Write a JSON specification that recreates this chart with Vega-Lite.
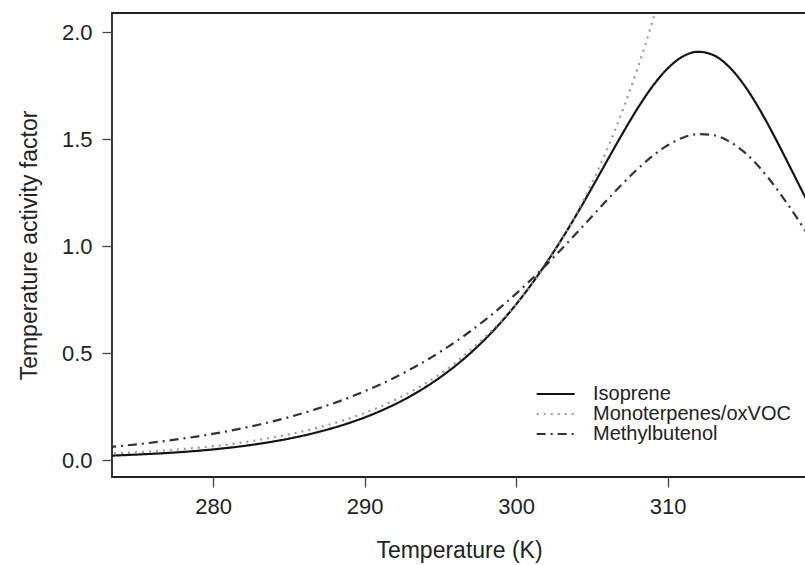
{
  "$schema": "https://vega.github.io/schema/vega-lite/v6.json",
  "width": 694,
  "height": 464,
  "autosize": {"type": "none"},
  "padding": {"left": 112, "top": 13, "right": 0, "bottom": 88},
  "background": "white",
  "config": {
    "view": {"stroke": "#222", "strokeWidth": 1.8},
    "font": "Liberation Sans",
    "axis": {
      "grid": false,
      "domain": false,
      "tickColor": "#444",
      "tickSize": 10,
      "tickWidth": 1.3,
      "labelFontSize": 22,
      "labelColor": "#222",
      "labelFont": "Liberation Sans",
      "titleFont": "Liberation Sans",
      "titleFontSize": 23,
      "titleFontWeight": "normal",
      "titleColor": "#222"
    }
  },
  "datasets": {
    "curves": [
      {"T": 273, "series": "Isoprene", "value": 0.02},
      {"T": 275, "series": "Isoprene", "value": 0.026},
      {"T": 277, "series": "Isoprene", "value": 0.0334},
      {"T": 279, "series": "Isoprene", "value": 0.0435},
      {"T": 281, "series": "Isoprene", "value": 0.0572},
      {"T": 283, "series": "Isoprene", "value": 0.0757},
      {"T": 285, "series": "Isoprene", "value": 0.1001},
      {"T": 287, "series": "Isoprene", "value": 0.1322},
      {"T": 289, "series": "Isoprene", "value": 0.174},
      {"T": 291, "series": "Isoprene", "value": 0.228},
      {"T": 293, "series": "Isoprene", "value": 0.2978},
      {"T": 295, "series": "Isoprene", "value": 0.3873},
      {"T": 296, "series": "Isoprene", "value": 0.4408},
      {"T": 297, "series": "Isoprene", "value": 0.501},
      {"T": 298, "series": "Isoprene", "value": 0.5685},
      {"T": 299, "series": "Isoprene", "value": 0.6438},
      {"T": 300, "series": "Isoprene", "value": 0.7277},
      {"T": 301, "series": "Isoprene", "value": 0.8202},
      {"T": 302, "series": "Isoprene", "value": 0.9216},
      {"T": 303, "series": "Isoprene", "value": 1.0314},
      {"T": 304, "series": "Isoprene", "value": 1.1488},
      {"T": 305, "series": "Isoprene", "value": 1.272},
      {"T": 306, "series": "Isoprene", "value": 1.3983},
      {"T": 307, "series": "Isoprene", "value": 1.5232},
      {"T": 308, "series": "Isoprene", "value": 1.6416},
      {"T": 309, "series": "Isoprene", "value": 1.7462},
      {"T": 310, "series": "Isoprene", "value": 1.83},
      {"T": 311, "series": "Isoprene", "value": 1.8859},
      {"T": 312, "series": "Isoprene", "value": 1.9078},
      {"T": 313, "series": "Isoprene", "value": 1.8929},
      {"T": 314, "series": "Isoprene", "value": 1.8413},
      {"T": 315, "series": "Isoprene", "value": 1.757},
      {"T": 316, "series": "Isoprene", "value": 1.6468},
      {"T": 317, "series": "Isoprene", "value": 1.5184},
      {"T": 318, "series": "Isoprene", "value": 1.3801},
      {"T": 319, "series": "Isoprene", "value": 1.2396},
      {"T": 320, "series": "Isoprene", "value": 1.1025},
      {"T": 273, "series": "Monoterpenes/oxVOC", "value": 0.030},
      {"T": 275, "series": "Monoterpenes/oxVOC", "value": 0.037},
      {"T": 277, "series": "Monoterpenes/oxVOC", "value": 0.046},
      {"T": 279, "series": "Monoterpenes/oxVOC", "value": 0.058},
      {"T": 281, "series": "Monoterpenes/oxVOC", "value": 0.073},
      {"T": 283, "series": "Monoterpenes/oxVOC", "value": 0.094},
      {"T": 285, "series": "Monoterpenes/oxVOC", "value": 0.120},
      {"T": 287, "series": "Monoterpenes/oxVOC", "value": 0.153},
      {"T": 289, "series": "Monoterpenes/oxVOC", "value": 0.195},
      {"T": 291, "series": "Monoterpenes/oxVOC", "value": 0.248},
      {"T": 293, "series": "Monoterpenes/oxVOC", "value": 0.317},
      {"T": 295, "series": "Monoterpenes/oxVOC", "value": 0.403},
      {"T": 296, "series": "Monoterpenes/oxVOC", "value": 0.455},
      {"T": 297, "series": "Monoterpenes/oxVOC", "value": 0.5157},
      {"T": 298, "series": "Monoterpenes/oxVOC", "value": 0.5786},
      {"T": 299, "series": "Monoterpenes/oxVOC", "value": 0.6491},
      {"T": 300, "series": "Monoterpenes/oxVOC", "value": 0.7282},
      {"T": 301, "series": "Monoterpenes/oxVOC", "value": 0.8169},
      {"T": 302, "series": "Monoterpenes/oxVOC", "value": 0.9165},
      {"T": 303, "series": "Monoterpenes/oxVOC", "value": 1.0282},
      {"T": 304, "series": "Monoterpenes/oxVOC", "value": 1.1535},
      {"T": 305, "series": "Monoterpenes/oxVOC", "value": 1.2941},
      {"T": 306, "series": "Monoterpenes/oxVOC", "value": 1.4518},
      {"T": 307, "series": "Monoterpenes/oxVOC", "value": 1.6287},
      {"T": 308, "series": "Monoterpenes/oxVOC", "value": 1.8271},
      {"T": 309, "series": "Monoterpenes/oxVOC", "value": 2.0499},
      {"T": 310, "series": "Monoterpenes/oxVOC", "value": 2.2997},
      {"T": 273, "series": "Methylbutenol", "value": 0.06},
      {"T": 275, "series": "Methylbutenol", "value": 0.0739},
      {"T": 277, "series": "Methylbutenol", "value": 0.0907},
      {"T": 279, "series": "Methylbutenol", "value": 0.1111},
      {"T": 281, "series": "Methylbutenol", "value": 0.1356},
      {"T": 283, "series": "Methylbutenol", "value": 0.1651},
      {"T": 285, "series": "Methylbutenol", "value": 0.2004},
      {"T": 287, "series": "Methylbutenol", "value": 0.2426},
      {"T": 289, "series": "Methylbutenol", "value": 0.2928},
      {"T": 291, "series": "Methylbutenol", "value": 0.3525},
      {"T": 293, "series": "Methylbutenol", "value": 0.423},
      {"T": 295, "series": "Methylbutenol", "value": 0.5062},
      {"T": 296, "series": "Methylbutenol", "value": 0.5529},
      {"T": 297, "series": "Methylbutenol", "value": 0.6032},
      {"T": 298, "series": "Methylbutenol", "value": 0.6575},
      {"T": 299, "series": "Methylbutenol", "value": 0.7157},
      {"T": 300, "series": "Methylbutenol", "value": 0.7777},
      {"T": 301, "series": "Methylbutenol", "value": 0.8438},
      {"T": 302, "series": "Methylbutenol", "value": 0.9134},
      {"T": 303, "series": "Methylbutenol", "value": 0.9864},
      {"T": 304, "series": "Methylbutenol", "value": 1.0617},
      {"T": 305, "series": "Methylbutenol", "value": 1.1384},
      {"T": 306, "series": "Methylbutenol", "value": 1.215},
      {"T": 307, "series": "Methylbutenol", "value": 1.2894},
      {"T": 308, "series": "Methylbutenol", "value": 1.359},
      {"T": 309, "series": "Methylbutenol", "value": 1.4207},
      {"T": 310, "series": "Methylbutenol", "value": 1.4711},
      {"T": 311, "series": "Methylbutenol", "value": 1.5064},
      {"T": 312, "series": "Methylbutenol", "value": 1.523},
      {"T": 313, "series": "Methylbutenol", "value": 1.5186},
      {"T": 314, "series": "Methylbutenol", "value": 1.4915},
      {"T": 315, "series": "Methylbutenol", "value": 1.4421},
      {"T": 316, "series": "Methylbutenol", "value": 1.3725},
      {"T": 317, "series": "Methylbutenol", "value": 1.286},
      {"T": 318, "series": "Methylbutenol", "value": 1.1874},
      {"T": 319, "series": "Methylbutenol", "value": 1.0818},
      {"T": 320, "series": "Methylbutenol", "value": 0.9736}
    ]
  },
  "data": {"name": "curves"},
  "mark": {"type": "line", "interpolate": "monotone", "clip": true, "strokeWidth": 2.2},
  "encoding": {
    "x": {
      "field": "T",
      "type": "quantitative",
      "scale": {"domain": [273.33, 319.13], "nice": false, "zero": false},
      "axis": {"values": [280, 290, 300, 310], "title": "Temperature (K)", "labelPadding": 9, "titlePadding": 22}
    },
    "y": {
      "field": "value",
      "type": "quantitative",
      "scale": {"domain": [-0.079, 2.089], "nice": false, "zero": false},
      "axis": {"values": [0, 0.5, 1, 1.5, 2], "format": ".1f", "title": "Temperature activity factor", "labelPadding": 10, "titlePadding": 20}
    },
    "stroke": {
      "field": "series",
      "type": "nominal",
      "scale": {"domain": ["Isoprene", "Monoterpenes/oxVOC", "Methylbutenol"], "range": ["#151515", "#9a9a9a", "#333333"]},
      "legend": {"title": null, "orient": "none", "legendX": 421, "legendY": 371, "symbolType": "M-1,0H5", "symbolSize": 160, "symbolStrokeWidth": 2.2, "labelFontSize": 20, "labelLimit": 400, "labelColor": "#222", "labelFont": "Liberation Sans", "labelOffset": 40, "rowPadding": -1}
    },
    "strokeDash": {
      "field": "series",
      "type": "nominal",
      "scale": {"domain": ["Isoprene", "Monoterpenes/oxVOC", "Methylbutenol"], "range": [[1, 0], [2, 5], [9, 5, 2, 5]]},
      "legend": {"title": null, "orient": "none", "legendX": 421, "legendY": 371, "symbolType": "M-1,0H5", "symbolSize": 160, "symbolStrokeWidth": 2.2, "labelFontSize": 20, "labelLimit": 400, "labelColor": "#222", "labelFont": "Liberation Sans", "labelOffset": 40, "rowPadding": -1}
    }
  }
}
